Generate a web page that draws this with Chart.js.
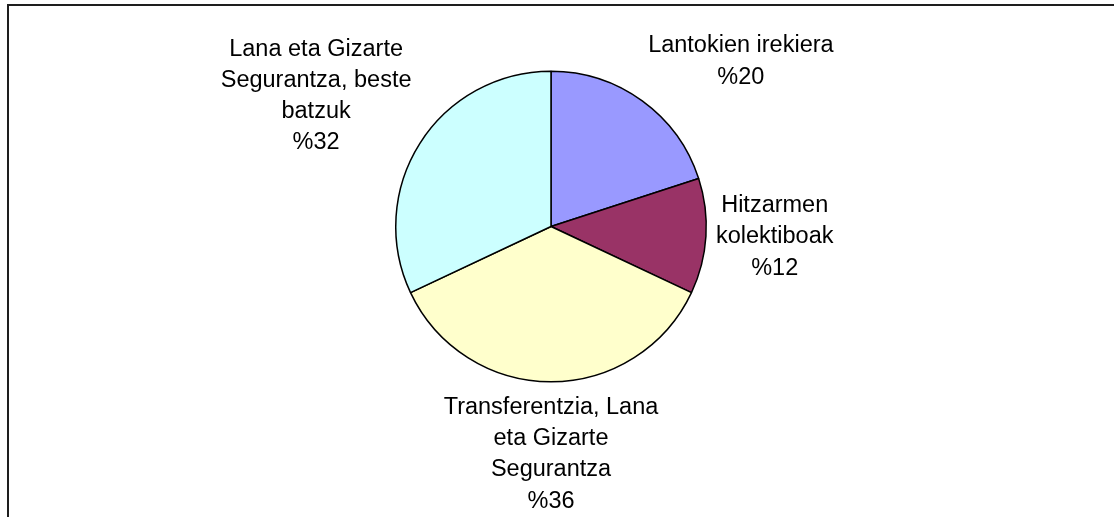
<!DOCTYPE html>
<html>
<head>
<meta charset="utf-8">
<script src="https://cdn.jsdelivr.net/npm/chart.js@4/dist/chart.umd.min.js"></script>
<style>
  html, body { margin: 0; padding: 0; background: #fff; }
  #wrap { width: 1114px; height: 517px; }
</style>
</head>
<body>
<div id="wrap"><canvas id="myChart" width="1114" height="517"></canvas></div>
<script>
const categories = [
	['Lantokien irekiera'],
	['Hitzarmen', 'kolektiboak'],
	['Transferentzia, Lana', 'eta Gizarte', 'Segurantza'],
	['Lana eta Gizarte', 'Segurantza, beste', 'batzuk']
];
const values = [20, 12, 36, 32];
const colors = ['#9999FF', '#993366', '#FFFFCC', '#CCFFFF'];

const FONT = '23.5px "Liberation Sans", Arial, sans-serif';
const LINE_H = 31.3;

// frame round the chart (left and top edges only are visible)
const framePlugin = {
	id: 'frame',
	beforeDraw(chart) {
		const c = chart.ctx;
		c.save();
		c.fillStyle = '#fff';
		c.fillRect(0, 0, chart.width, chart.height);
		c.strokeStyle = '#1e1e1e';
		c.lineWidth = 2;
		c.beginPath();
		c.moveTo(8, chart.height + 2);
		c.lineTo(8, 5);
		c.lineTo(chart.width + 2, 5);
		c.stroke();
		c.restore();
	}
};

// labels outside the pie, like Excel's
const outLabels = {
	id: 'outLabels',
	afterDatasetsDraw(chart) {
		const c = chart.ctx;
		const meta = chart.getDatasetMeta(0);
		const total = values.reduce((a, b) => a + b, 0);
		c.save();
		c.font = FONT;
		c.fillStyle = '#000';
		c.textAlign = 'center';
		c.textBaseline = 'middle';
		meta.data.forEach((arc, i) => {
			const p = arc.getProps(['x', 'y', 'startAngle', 'endAngle', 'outerRadius'], true);
			const mid = (p.startAngle + p.endAngle) / 2;
			const s = Math.cos(mid), k = Math.sin(mid); // s: x dir, k: y dir
			const lines = categories[i].concat(['%' + Math.round(values[i] / total * 100)]);
			const w = Math.max(...lines.map(l => c.measureText(l).width));
			const h = lines.length * LINE_H;
			const R = p.outerRadius + 10;
			const fx = Math.max(-1, Math.min(1, 2 * s));
			const fy = Math.abs(k) < 0.1 ? 0 : Math.max(-1, Math.min(1, 1.25 * k));
			const cx = p.x + R * s + fx * w / 2;
			const cy = p.y + R * k + fy * h / 2;
			lines.forEach((l, j) => {
				c.fillText(l, cx, cy - h / 2 + LINE_H * (j + 0.5));
			});
		});
		c.restore();
	}
};

const ctx = document.getElementById('myChart');
const myChart = new Chart(ctx, {
	type: 'pie',
	data: {
		labels: categories,
		datasets: [{
			data: values,
			backgroundColor: colors,
			borderColor: '#000',
			borderWidth: 1.5,
			hoverOffset: 0
		}]
	},
	options: {
		responsive: false,
		animation: false,
		layout: {
			padding: { left: 395, right: 407, top: 70.5, bottom: 134.5 }
		},
		plugins: {
			legend: { display: false },
			tooltip: { enabled: false }
		}
	},
	plugins: [framePlugin, outLabels]
});
</script>
</body>
</html>
